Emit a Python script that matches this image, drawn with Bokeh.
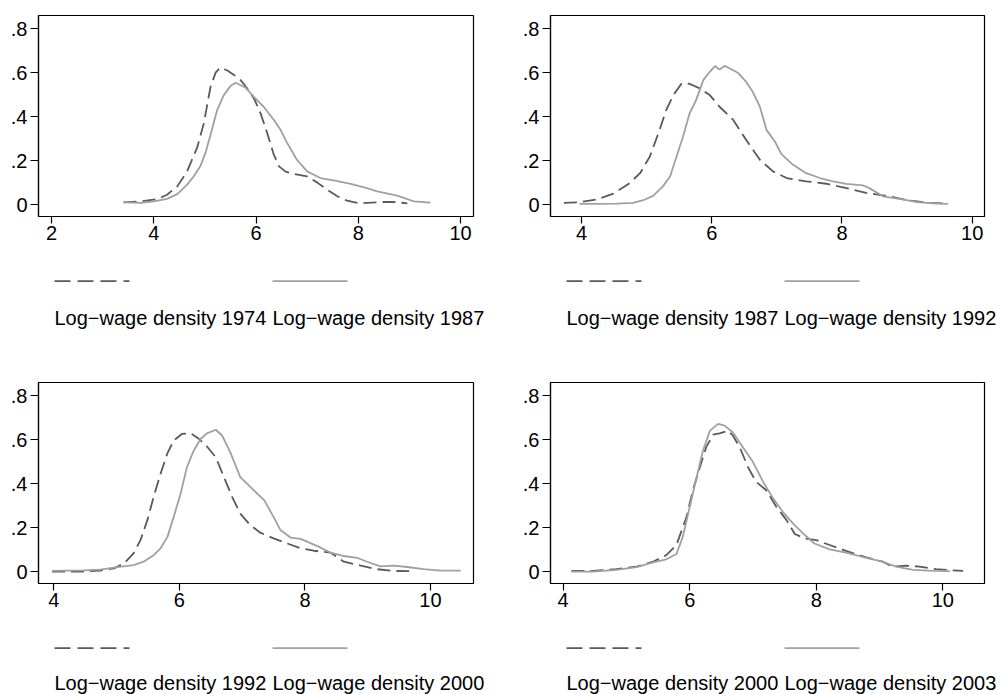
from bokeh.plotting import figure
from bokeh.models import Range1d, FixedTicker, CustomJSTickFormatter
from bokeh.layouts import column, row
from bokeh.core.properties import value
from bokeh.embed import file_html
from bokeh.resources import INLINE

# ---------------- data ----------------
x1974 = [3.41, 3.74, 4.07, 4.26, 4.46, 4.65, 4.85, 4.98, 5.11, 5.21, 5.30, 5.44, 5.57, 5.70, 5.83,
         5.96, 6.09, 6.22, 6.35, 6.45, 6.58, 6.74, 7.00, 7.20, 7.39, 7.59, 7.78, 7.98, 8.17, 8.50,
         8.69, 8.96]
y1974 = [0.010, 0.015, 0.025, 0.045, 0.083, 0.150, 0.260, 0.370, 0.535, 0.600, 0.623, 0.610, 0.590,
         0.566, 0.528, 0.483, 0.415, 0.325, 0.226, 0.174, 0.150, 0.140, 0.128, 0.100, 0.068, 0.038,
         0.018, 0.008, 0.008, 0.012, 0.012, 0.006]

x1987a = [3.41, 3.74, 4.00, 4.26, 4.46, 4.65, 4.78, 4.91, 5.01, 5.11, 5.24, 5.37, 5.50, 5.60, 5.70,
          5.79, 5.96, 6.15, 6.35, 6.48, 6.61, 6.80, 7.00, 7.26, 7.52, 7.85, 8.17, 8.37, 8.76, 9.09,
          9.41]
y1987a = [0.010, 0.008, 0.015, 0.026, 0.048, 0.090, 0.128, 0.174, 0.234, 0.317, 0.430, 0.498, 0.539,
          0.554, 0.543, 0.533, 0.490, 0.445, 0.385, 0.340, 0.280, 0.204, 0.151, 0.121, 0.110, 0.094,
          0.075, 0.060, 0.041, 0.015, 0.009]

x1987b = [3.73, 3.97, 4.23, 4.49, 4.74, 4.90, 5.05, 5.20, 5.30, 5.41, 5.53, 5.61, 5.71, 5.82, 5.97,
          6.12, 6.33, 6.53, 6.74, 6.94, 7.15, 7.45, 7.76, 8.07, 8.37, 8.73, 9.04, 9.35, 9.63]
y1987b = [0.008, 0.011, 0.023, 0.050, 0.098, 0.143, 0.219, 0.340, 0.430, 0.498, 0.548, 0.554, 0.543,
          0.528, 0.498, 0.445, 0.385, 0.294, 0.204, 0.151, 0.121, 0.106, 0.095, 0.075, 0.053, 0.038,
          0.018, 0.008, 0.005]

x1992a = [3.97, 4.28, 4.54, 4.79, 4.95, 5.10, 5.25, 5.36, 5.46, 5.56, 5.66, 5.76, 5.87, 5.97, 6.05,
          6.12, 6.20, 6.28, 6.40, 6.53, 6.63, 6.74, 6.84, 6.97, 7.07, 7.25, 7.45, 7.66, 7.86, 8.07,
          8.32, 8.42, 8.63, 8.88, 9.14, 9.40, 9.63]
y1992a = [0.003, 0.003, 0.005, 0.008, 0.020, 0.040, 0.083, 0.128, 0.219, 0.310, 0.415, 0.475, 0.566,
          0.604, 0.630, 0.614, 0.631, 0.619, 0.600, 0.558, 0.513, 0.445, 0.340, 0.287, 0.230, 0.181,
          0.143, 0.121, 0.106, 0.094, 0.088, 0.075, 0.038, 0.026, 0.012, 0.006, 0.003]

x1992b = [3.97, 4.48, 4.74, 4.96, 5.12, 5.27, 5.38, 5.49, 5.59, 5.70, 5.81, 5.91, 6.04, 6.18, 6.31,
          6.44, 6.58, 6.71, 6.84, 6.97, 7.13, 7.29, 7.50, 7.72, 7.93, 8.14, 8.41, 8.62, 8.89, 9.15,
          9.42, 9.66]
y1992b = [0.000, 0.000, 0.005, 0.015, 0.038, 0.083, 0.143, 0.234, 0.340, 0.445, 0.539, 0.596, 0.626,
          0.629, 0.604, 0.569, 0.520, 0.430, 0.340, 0.264, 0.211, 0.177, 0.151, 0.128, 0.106, 0.095,
          0.086, 0.045, 0.027, 0.011, 0.003, 0.002]

x2000a = [3.97, 4.48, 4.74, 5.01, 5.27, 5.43, 5.59, 5.70, 5.81, 5.91, 6.02, 6.12, 6.23, 6.34, 6.44,
          6.58, 6.68, 6.81, 6.97, 7.13, 7.35, 7.50, 7.61, 7.77, 7.93, 8.20, 8.41, 8.62, 8.83, 8.99,
          9.20, 9.42, 9.63, 9.89, 10.16, 10.48]
y2000a = [0.003, 0.006, 0.009, 0.020, 0.030, 0.045, 0.075, 0.106, 0.158, 0.249, 0.355, 0.475, 0.551,
          0.604, 0.629, 0.645, 0.619, 0.543, 0.430, 0.385, 0.325, 0.249, 0.189, 0.155, 0.149, 0.116,
          0.086, 0.071, 0.063, 0.045, 0.024, 0.027, 0.021, 0.011, 0.005, 0.005]

x2000b = [4.13, 4.47, 4.84, 5.16, 5.42, 5.63, 5.79, 5.95, 6.05, 6.16, 6.26, 6.37, 6.47, 6.61, 6.68,
          6.79, 6.92, 7.05, 7.21, 7.37, 7.53, 7.66, 7.82, 8.00, 8.21, 8.47, 8.79, 9.05, 9.21, 9.42,
          9.63, 9.89, 10.32]
y2000b = [0.003, 0.003, 0.011, 0.023, 0.045, 0.075, 0.121, 0.249, 0.370, 0.475, 0.566, 0.623, 0.629,
          0.641, 0.619, 0.566, 0.475, 0.408, 0.370, 0.294, 0.234, 0.171, 0.151, 0.143, 0.121, 0.094,
          0.065, 0.045, 0.023, 0.027, 0.023, 0.011, 0.003]

x2003 = [4.13, 4.47, 4.84, 5.16, 5.42, 5.63, 5.79, 5.89, 6.00, 6.11, 6.21, 6.32, 6.45, 6.55, 6.68,
         6.84, 7.00, 7.16, 7.32, 7.47, 7.63, 7.79, 7.97, 8.21, 8.47, 8.79, 9.05, 9.26, 9.53, 9.84,
         10.11]
y2003 = [0.000, 0.000, 0.008, 0.020, 0.042, 0.056, 0.080, 0.158, 0.294, 0.430, 0.551, 0.641, 0.672,
         0.664, 0.634, 0.566, 0.498, 0.408, 0.332, 0.272, 0.219, 0.174, 0.128, 0.101, 0.086, 0.063,
         0.045, 0.023, 0.008, 0.003, 0.002]

y_ticks = [0, 0.2, 0.4, 0.6, 0.8]
x_ticks_1 = [2, 4, 6, 8, 10]
x_ticks_2 = [4, 6, 8, 10]

labels_1 = ["Log\u2212wage density 1974", "Log\u2212wage density 1987"]
labels_2 = ["Log\u2212wage density 1987", "Log\u2212wage density 1992"]
labels_3 = ["Log\u2212wage density 1992", "Log\u2212wage density 2000"]
labels_4 = ["Log\u2212wage density 2000", "Log\u2212wage density 2003"]

# ---------------- styling ----------------
FONT = "Liberation Sans"
DASH_COLOR = "#5a5a5a"
SOLID_COLOR = "#a0a0a0"
LW = 1.8
DASH = "13 6"
COL_W = 499
PLOT_H = 256


def make_plot(xd, yd, xs, ys, xr, xticks, left_b, right_b):
    p = figure(width=COL_W, height=PLOT_H, x_range=Range1d(*xr), y_range=Range1d(-0.054, 0.86),
               output_backend="svg", toolbar_location=None,
               min_border_left=left_b, min_border_right=right_b,
               min_border_top=15, min_border_bottom=40)
    p.grid.visible = False
    p.outline_line_color = "black"
    p.outline_line_width = 1.2
    p.background_fill_color = "white"
    p.border_fill_color = "white"
    p.line(xd, yd, line_color=DASH_COLOR, line_width=LW, line_dash=DASH)
    p.line(xs, ys, line_color=SOLID_COLOR, line_width=LW)

    p.xaxis.ticker = FixedTicker(ticks=xticks)
    p.yaxis.ticker = FixedTicker(ticks=y_ticks)
    p.yaxis.formatter = CustomJSTickFormatter(
        code="return Math.abs(tick) < 1e-9 ? '0' : tick.toFixed(1).replace(/^0/, '');")
    for ax in (p.xaxis, p.yaxis):
        ax.axis_line_color = "black"
        ax.axis_line_width = 1.2
        ax.major_tick_line_color = "black"
        ax.major_tick_line_width = 1.2
        ax.major_tick_in = 0
        ax.minor_tick_line_color = None
        ax.major_label_text_font = FONT
        ax.major_label_text_font_size = "20px"
        ax.major_label_text_color = "black"
    p.xaxis.major_tick_out = 7
    p.yaxis.major_tick_out = 8
    p.xaxis.major_label_standoff = 2
    p.yaxis.major_label_standoff = 3
    return p


def make_legend(h, labels, frame_left, line_y, text_y):
    lg = figure(width=COL_W, height=h, x_range=Range1d(0, COL_W), y_range=Range1d(h, 0),
                output_backend="svg", toolbar_location=None,
                x_axis_location=None, y_axis_location=None, min_border=0)
    lg.frame_align = False
    lg.grid.visible = False
    lg.outline_line_color = None
    lg.segment(x0=[frame_left + 16], y0=[line_y], x1=[frame_left + 91], y1=[line_y],
               line_color=DASH_COLOR, line_width=LW, line_dash="16 7")
    lg.segment(x0=[frame_left + 234], y0=[line_y], x1=[frame_left + 309], y1=[line_y],
               line_color=SOLID_COLOR, line_width=LW)
    lg.text(x=[frame_left + 16, frame_left + 234], y=[text_y, text_y], text=labels,
            text_font=value(FONT), text_font_size="20px", text_color="black",
            text_baseline="alphabetic", text_align="left")
    return lg


p1 = make_plot(x1974, y1974, x1987a, y1987a, (1.746, 10.254), x_ticks_1, 38, 26)
p2 = make_plot(x1987b, y1987b, x1992a, y1992a, (3.524, 10.189), x_ticks_2, 51, 14)
p3 = make_plot(x1992b, y1992b, x2000a, y2000a, (3.756, 10.685), x_ticks_2, 38, 26)
p4 = make_plot(x2000b, y2000b, x2003, y2003, (3.80, 10.658), x_ticks_2, 51, 14)

lg1 = make_legend(111, labels_1, 38, 24.7, 61)
lg2 = make_legend(111, labels_2, 51, 24.7, 61)
lg3 = make_legend(71, labels_3, 38, 24.7, 59)
lg4 = make_legend(71, labels_4, 51, 24.7, 59)

layout = column(row(column(p1, lg1), column(p2, lg2)),
                row(column(p3, lg3), column(p4, lg4)))

open("out.html", "w").write(file_html(layout, INLINE))
